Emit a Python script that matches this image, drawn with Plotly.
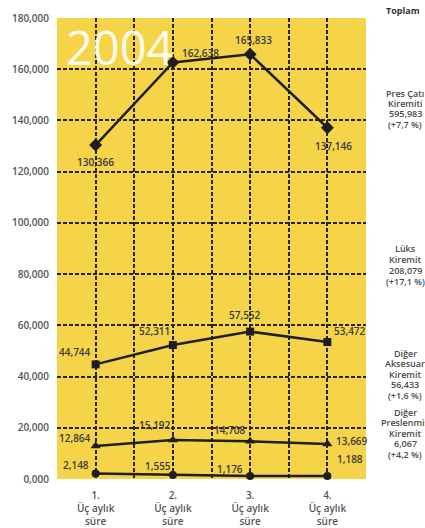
import plotly.graph_objects as go

categories = ["1.<br>Üç aylık<br>süre", "2.<br>Üç aylık<br>süre", "3.<br>Üç aylık<br>süre", "4.<br>Üç aylık<br>süre"]
pres_cati = [130366, 162638, 165833, 137146]
luks = [44744, 52311, 57552, 53472]
diger_aksesuar = [12864, 15192, 14708, 13669]
diger_preslenmis = [2148, 1555, 1176, 1188]

series_names = [["Pres Çatı", "Kiremiti"], ["Lüks", "Kiremit"], ["Diğer", "Aksesuar", "Kiremit"], ["Diğer", "Preslenmiş", "Kiremit"]]
series_pct = ["(+7,7 %)", "(+17,1 %)", "(+1,6 %)", "(+4,2 %)"]
y_ticks = [0, 20000, 40000, 60000, 80000, 100000, 120000, 140000, 160000, 180000]
y_ticktext = ["0,000", "20,000", "40,000", "60,000", "80,000", "100,000", "120,000", "140,000", "160,000", "180,000"]

xpos = [i + 1 for i in range(len(categories))]
fmt = lambda v: f"{v:,}"

LINE = "#1e1e1e"
LABEL_FONT = dict(family="Open Sans", size=10, color="#3a3a3a", weight=600)

# (values, marker symbol, marker size, label pixel offsets (dx, dy-up))
specs = [
    (pres_cati, "diamond", 10, [(0, -17), (28, 9), (3, 14), (6, -18)]),
    (luks, "square", 8, [(-21, 12), (-18, 14), (-5, 17), (23, 11)]),
    (diger_aksesuar, "triangle-up", 9, [(-21, 8), (-18, 15), (-20, 11), (25, 3)]),
    (diger_preslenmis, "circle", 8, [(-20, 9), (-15, 9), (-20, 7), (23, 17)]),
]

fig = go.Figure()
annotations = []
for vals, sym, msize, offs in specs:
    fig.add_trace(go.Scatter(
        x=xpos, y=vals, mode="lines+markers",
        line=dict(color=LINE, width=2.5),
        marker=dict(symbol=sym, size=msize, color=LINE),
        showlegend=False, cliponaxis=False, hoverinfo="skip",
    ))
    for xv, yv, (dx, dy) in zip(xpos, vals, offs):
        annotations.append(dict(
            x=xv, y=yv, xref="x", yref="y", text=fmt(yv), showarrow=False,
            xshift=dx, yshift=dy, xanchor="center", yanchor="middle", font=LABEL_FONT,
        ))

grid_x = [0.5 + 0.5 * i for i in range(9)]
grid_text = [categories[int(v) - 1] if float(v).is_integer() else "" for v in grid_x]

fig.update_xaxes(
    range=[0.5, 4.5], tickvals=grid_x, ticktext=grid_text, automargin=False,
    showgrid=True, gridcolor="#2a2418", gridwidth=1.8, griddash="4px,2px",
    zeroline=False, showline=False, ticks="outside", ticklen=7, tickcolor="rgba(0,0,0,0)",
    tickfont=dict(family="Open Sans", size=10, color="#555555", weight=600),
)
fig.update_yaxes(
    range=[0, 180000], tickvals=y_ticks, ticktext=y_ticktext, automargin=False,
    showgrid=True, gridcolor="#2a2418", gridwidth=1.8, griddash="4px,2px",
    zeroline=False, showline=False, ticks="outside", ticklen=5, tickcolor="rgba(0,0,0,0)",
    tickfont=dict(family="Open Sans", size=10, color="#555555", weight=600),
)

PLOT_L, PLOT_R, PLOT_T, PLOT_B = 57, 366, 18, 479
px_x = lambda x: (x - PLOT_L) / (PLOT_R - PLOT_L)
px_y = lambda y: (PLOT_B - y) / (PLOT_B - PLOT_T)

annotations += [
    dict(text="2004", xref="paper", yref="paper", x=px_x(64), y=px_y(47), xanchor="left", yanchor="middle",
         showarrow=False, font=dict(family="Open Sans", size=47, color="rgba(255,255,255,0.93)")),
    dict(text="Toplam", xref="paper", yref="paper", x=px_x(384), y=px_y(10), xanchor="left", yanchor="middle",
         showarrow=False, font=dict(family="Open Sans", size=9, color="#333333", weight=700)),
]
block_top = [93, 248, 353, 412]
block_step = [10.5, 11, 10.5, 10.5]
for vals, name, pct, top, step in zip([pres_cati, luks, diger_aksesuar, diger_preslenmis], series_names, series_pct, block_top, block_step):
    lines = name + [fmt(sum(vals)), pct]
    for k, line_text in enumerate(lines):
        annotations.append(dict(
            text=line_text, xref="paper", yref="paper",
            x=px_x(405), y=px_y(top + k * step), xanchor="center", yanchor="middle",
            showarrow=False, font=dict(family="Open Sans", size=9, color="#4a4a4a", weight=600),
        ))

fig.update_layout(
    width=425, height=528,
    margin=dict(l=PLOT_L, r=425 - PLOT_R, t=PLOT_T, b=528 - PLOT_B),
    paper_bgcolor="white", plot_bgcolor="#F6D44A",
    annotations=annotations, hovermode=False,
)

fig.write_html("out.html", config={"displayModeBar": False},
               post_script="document.body.style.margin='0';")
